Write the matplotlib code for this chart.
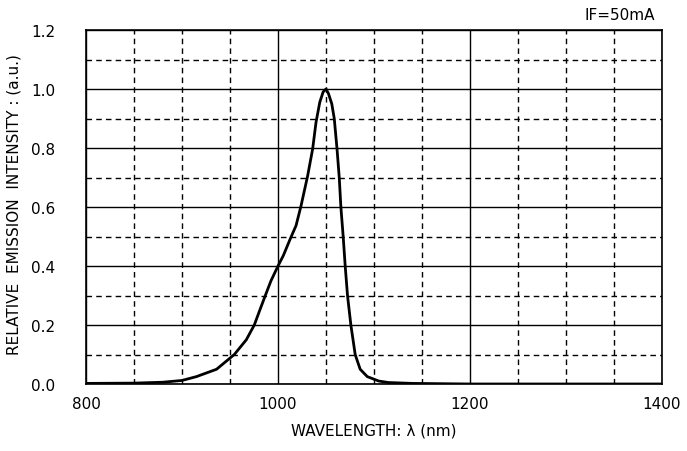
import matplotlib
matplotlib.use("Agg")
import matplotlib.pyplot as plt
from matplotlib.ticker import MultipleLocator

plt.rcParams['font.family'] = ['DejaVu Sans', 'Noto Sans CJK JP']

wavelength = [800, 850, 880, 900, 915, 936, 954.5, 967, 975.3, 981, 986.8, 992.7,
              1000, 1005.5, 1012.5, 1018.8, 1024, 1030.9, 1036.1, 1039.6, 1043.5,
              1047, 1050, 1052.5, 1056, 1058.6, 1061.4, 1063.8, 1065.5, 1067.9,
              1070, 1072.4, 1075.9, 1080.4, 1085.6, 1093, 1105, 1115, 1140, 1200,
              1400]
intensity = [0.002, 0.003, 0.006, 0.012, 0.025, 0.05, 0.10, 0.15, 0.20, 0.25,
             0.30, 0.35, 0.40, 0.435, 0.49, 0.537, 0.604, 0.706, 0.797, 0.887,
             0.955, 0.99, 1.0, 0.985, 0.95, 0.90, 0.80, 0.70, 0.60, 0.50, 0.40,
             0.30, 0.20, 0.10, 0.05, 0.025, 0.01, 0.005, 0.002, 0.0, 0.0]

x_ticks = [800, 1000, 1200, 1400]
y_ticks = [0.0, 0.2, 0.4, 0.6, 0.8, 1.0, 1.2]
y_tick_labels = ["0.0", "0.2", "0.4", "0.6", "0.8", "1.0", "1.2"]

fig = plt.figure(figsize=(6.87, 4.52), dpi=100)
ax = fig.add_axes([86/687, (452-385)/452, 576/687, 354/452])

ax.plot(wavelength, intensity, color='black', lw=2.0, solid_joinstyle='round',
        solid_capstyle='round', zorder=3)

ax.set_xlim(800, 1400)
ax.set_ylim(0, 1.2)
ax.set_xticks(x_ticks)
ax.set_yticks(y_ticks)
ax.set_yticklabels(y_tick_labels)
ax.xaxis.set_minor_locator(MultipleLocator(50))
ax.yaxis.set_minor_locator(MultipleLocator(0.1))
ax.grid(which='major', color='black', lw=1.0, ls='-')
ax.grid(which='minor', color='black', lw=1.0, ls=(0, (4, 3)))
ax.tick_params(which='both', length=0)
ax.tick_params(axis='y', pad=22, labelsize=11)
ax.tick_params(axis='x', pad=9, labelsize=11)
for s in ax.spines.values():
    s.set_color('black')
    s.set_linewidth(1.2)

ax.set_xlabel("WAVELENGTH: λ (nm)", fontsize=11, labelpad=8)
fig.text(14/687, 1 - 205/452, "RELATIVE  EMISSION  INTENSITY : (a.u.)", rotation=90,
         ha='center', va='center', fontsize=11)
fig.text(655/687, 1 - 15/452, "IF=50mA", ha='right', va='center', fontsize=11)

fig.savefig("out.png", dpi=100)
